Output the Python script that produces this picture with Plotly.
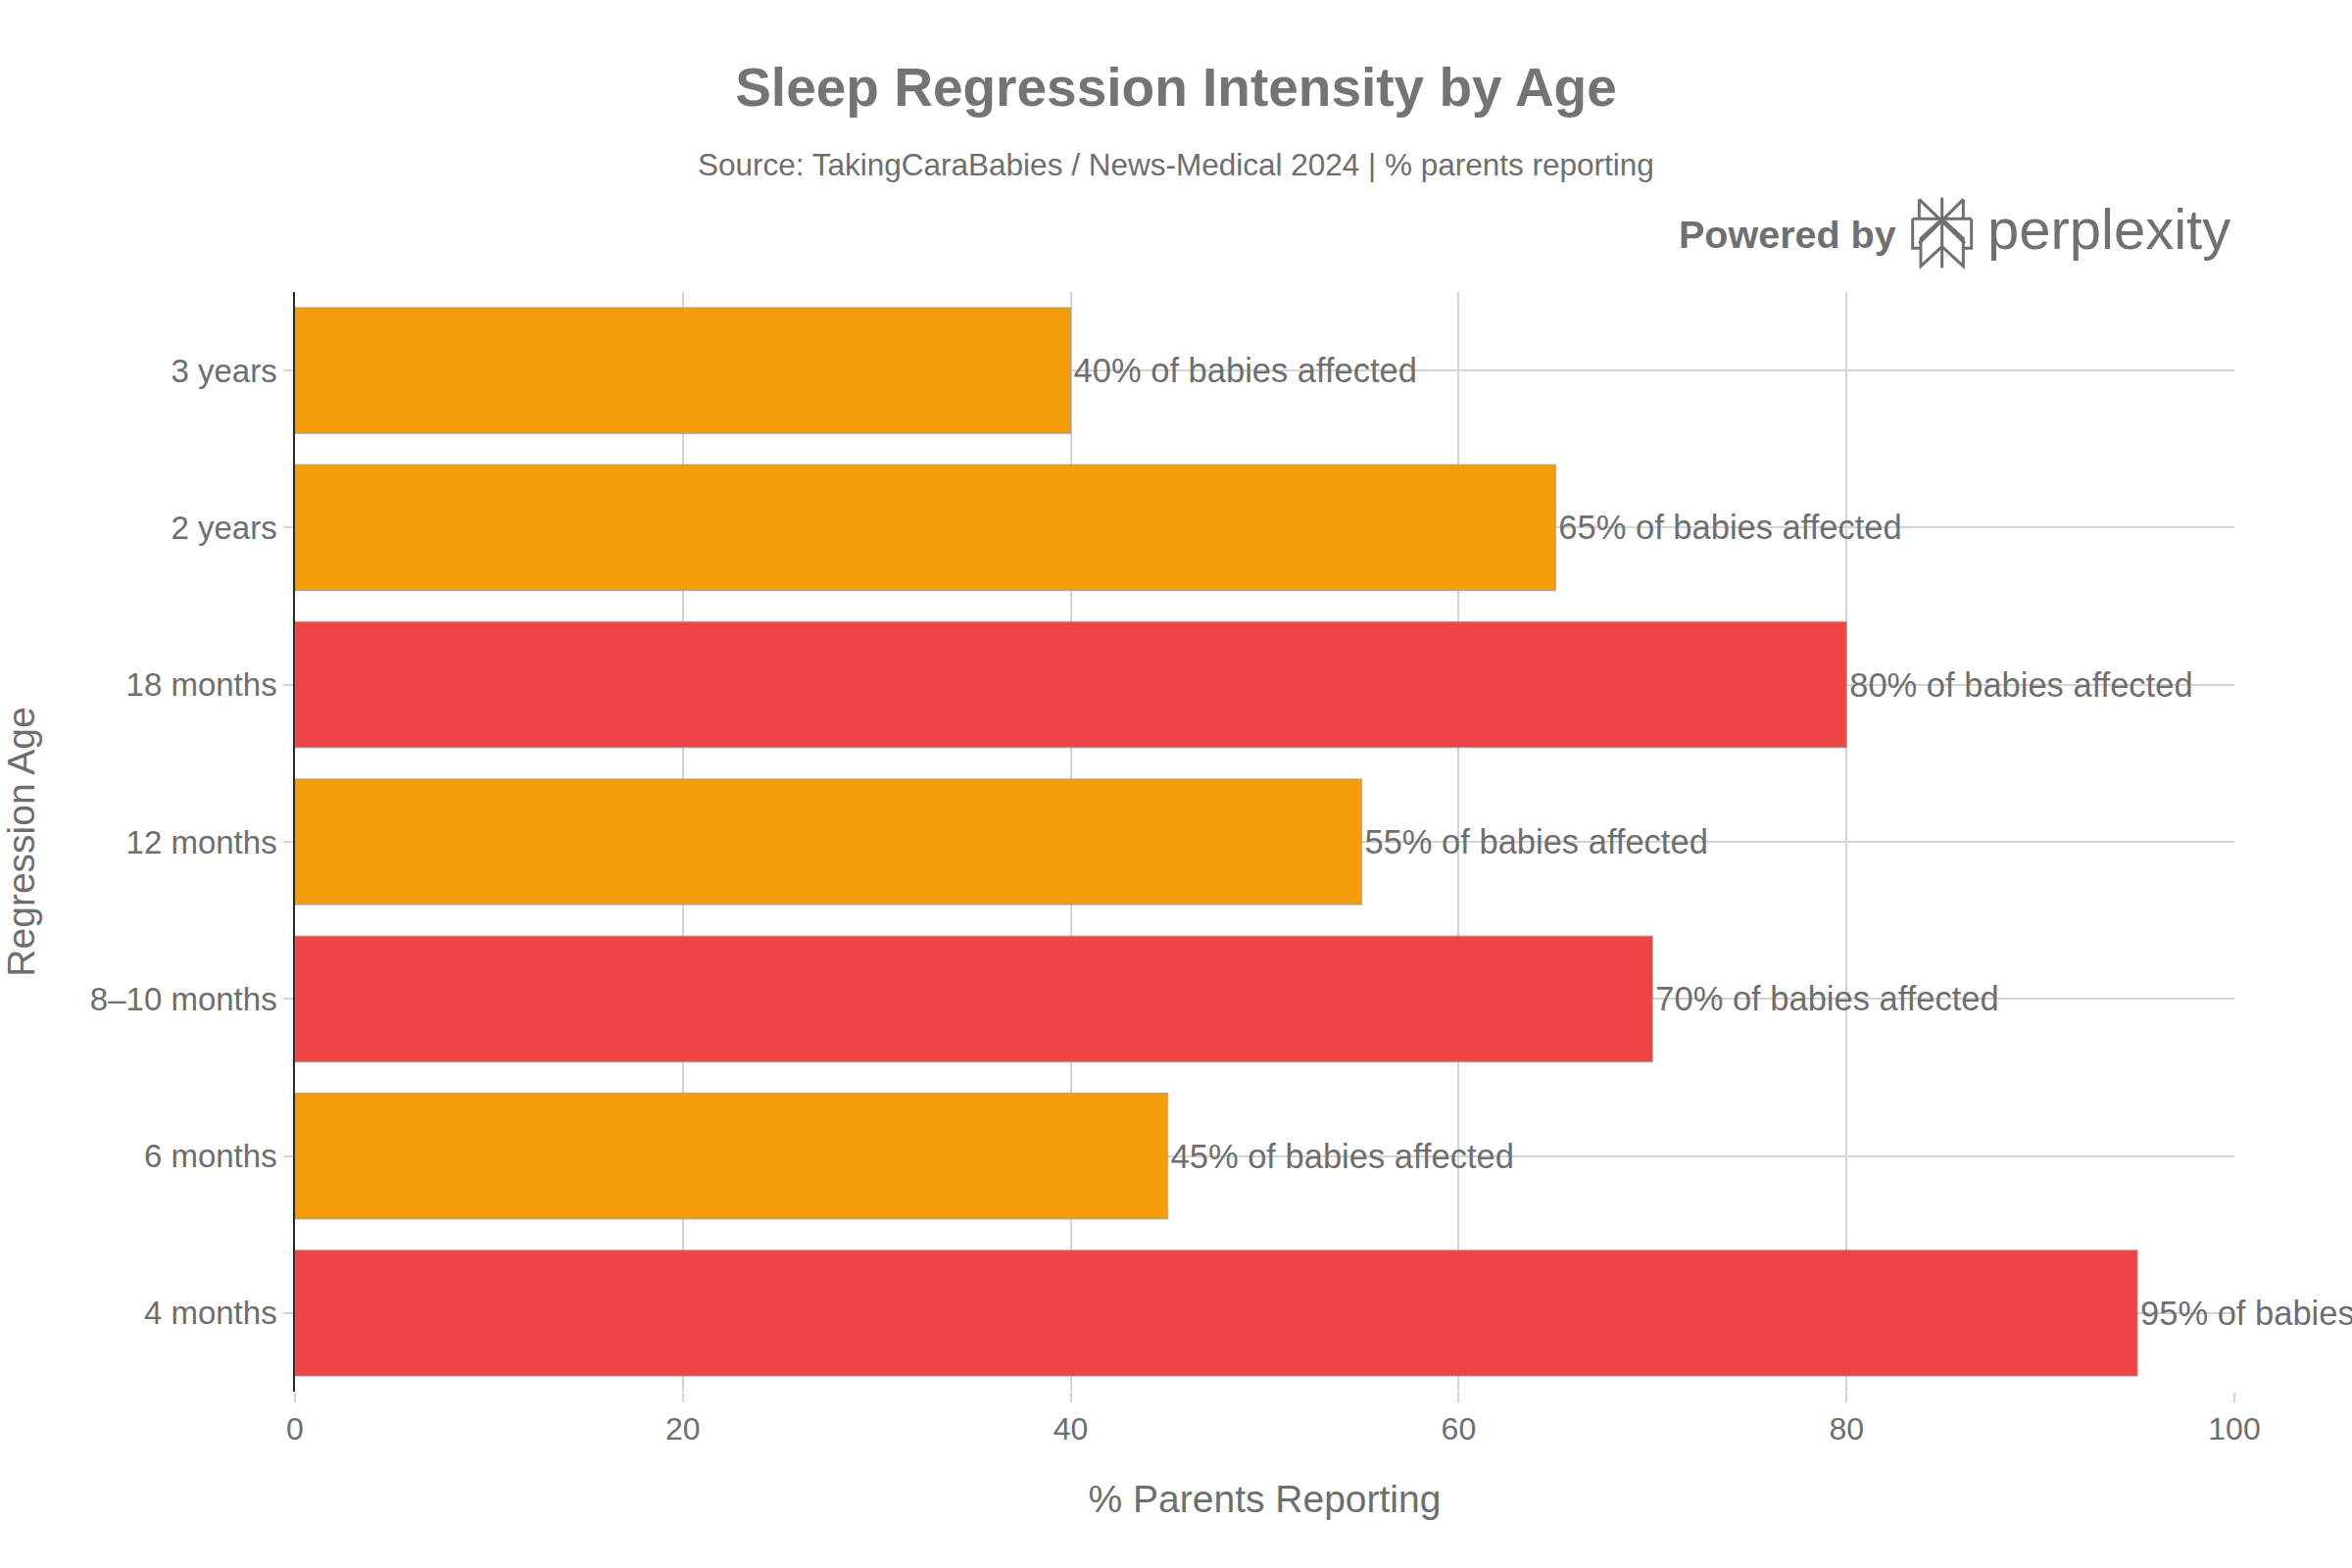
import plotly.graph_objects as go

# ---- data ----
ages = ["4 months", "6 months", "8–10 months", "12 months", "18 months", "2 years", "3 years"]
pct_reporting = [95, 45, 70, 55, 80, 65, 40]
intensity = ["high", "moderate", "high", "moderate", "high", "moderate", "moderate"]
x_ticks = [0, 20, 40, 60, 80, 100]

color_map = {"high": "#EF4444", "moderate": "#F59E0B"}
bar_colors = [color_map[k] for k in intensity]

FONT = "Liberation Sans, Arial, sans-serif"
GRAY = "#6e6e6e"

W, H = 2400, 1600
ML, MR, MT, MB = 301, 120, 298, 180
PW, PH = W - ML - MR, H - MT - MB


def px2paper(px, py):
    return (px - ML) / PW, (H - MB - py) / PH


fig = go.Figure()
fig.add_trace(go.Bar(
    y=ages,
    x=pct_reporting,
    orientation="h",
    marker=dict(color=bar_colors, line=dict(color="rgba(150,150,150,0.6)", width=1.5)),
    texttemplate="%{x}% of babies affected",
    textposition="outside",
    textfont=dict(family=FONT, size=34.5, color=GRAY),
    cliponaxis=False,
    constraintext="none",
    showlegend=False,
))

fig.update_layout(
    width=W, height=H,
    margin=dict(l=ML, r=MR, t=MT, b=MB),
    paper_bgcolor="white",
    plot_bgcolor="white",
    bargap=0.2,
    font=dict(family=FONT, color=GRAY),
    title=dict(
        text="<b>Sleep Regression Intensity by Age</b>",
        x=0.5, xref="container", xanchor="center",
        y=1 - 89 / H, yref="container", yanchor="middle",
        font=dict(family=FONT, size=55, color="#747474"),
    ),
    xaxis=dict(
        range=[0, 100],
        tickvals=x_ticks,
        showgrid=True, gridcolor="#d4d4d4", gridwidth=1.5,
        zeroline=False,
        showline=False,
        ticks="outside", ticklen=10, tickcolor="#d4d4d4", tickwidth=1.5,
        tickfont=dict(family=FONT, size=32, color=GRAY),
        title=dict(text="% Parents Reporting", font=dict(family=FONT, size=39, color=GRAY), standoff=40),
    ),
    yaxis=dict(
        categoryorder="array", categoryarray=ages,
        showgrid=True, gridcolor="#d4d4d4", gridwidth=1.5,
        showline=True, linecolor="#2a2a2a", linewidth=1.5,
        ticks="outside", ticklen=10, tickcolor="#d4d4d4", tickwidth=1.5,
        tickfont=dict(family=FONT, size=33, color=GRAY),
        title=dict(text="Regression Age", font=dict(family=FONT, size=39, color=GRAY), standoff=46),
    ),
)

# subtitle
sx, sy = px2paper(1200, 168)
fig.add_annotation(
    text="Source: TakingCaraBabies / News-Medical 2024 | % parents reporting",
    xref="paper", yref="paper", x=sx, y=sy, xanchor="center", yanchor="middle",
    showarrow=False, font=dict(family=FONT, size=31.5, color=GRAY),
)

# "Powered by perplexity" branding
bx, by = px2paper(1937, 239)
fig.add_annotation(
    text="<b>Powered by</b>", xref="paper", yref="paper", x=bx, y=by,
    xanchor="right", yanchor="middle", showarrow=False,
    font=dict(family=FONT, size=39.5, color="#707070"),
)
px_, py_ = px2paper(2026, 234)
fig.add_annotation(
    text="perplexity", xref="paper", yref="paper", x=px_, y=py_,
    xanchor="left", yanchor="middle", showarrow=False,
    font=dict(family=FONT, size=58, color="#707070"),
)

# logo glyph (decorative), coordinates in pixels converted to paper
ox, oy = 1930, 190
def lp(ix, iy):
    return px2paper(ox + ix / 3, oy + iy / 3)

segments = [
    [(155, 35), (155, 250)],
    [(85, 40), (85, 100)], [(85, 40), (225, 175)],
    [(220, 40), (220, 100)], [(220, 40), (85, 175)],
    [(65, 100), (245, 100)],
    [(65, 100), (65, 190), (90, 190)],
    [(245, 100), (245, 190), (220, 190)],
    [(155, 100), (90, 160), (90, 245), (155, 185)],
    [(155, 100), (220, 160), (220, 245), (155, 185)],
]
for seg in segments:
    pts = [lp(a, b) for a, b in seg]
    path = "M " + " L ".join(f"{x:.5f},{y:.5f}" for x, y in pts)
    fig.add_shape(type="path", path=path, xref="paper", yref="paper",
                  line=dict(color="#707070", width=3))

fig.write_html("out.html")
